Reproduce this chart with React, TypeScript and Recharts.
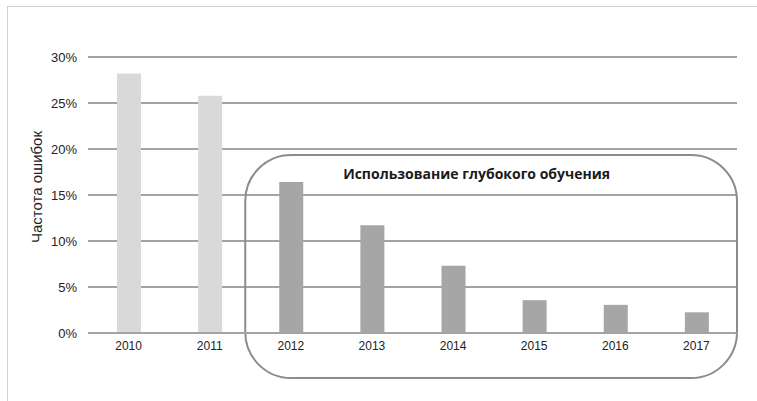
import React from 'react';
import { BarChart, Bar, XAxis, YAxis, CartesianGrid, Cell, ReferenceArea, Label } from 'recharts';

const years = ['2010', '2011', '2012', '2013', '2014', '2015', '2016', '2017'];
const errorRates = [28.2, 25.8, 16.4, 11.7, 7.3, 3.57, 3.06, 2.25];
const yTicks = [0, 5, 10, 15, 20, 25, 30];
const deepLearningFrom = '2012';
const deepLearningTo = '2017';
const boxTitle = 'Использование глубокого обучения';
const yTitle = 'Частота ошибок';
// vertical extent of the rounded annotation box, in % units
const boxTop = 19.35;
const boxBottom = -4.9;

const data = years.map((year, i) => ({ year, rate: errorRates[i] }));
const deepStart = years.indexOf(deepLearningFrom);

const FONT = '"Liberation Sans", Arial, sans-serif';

function RoundedBox(props: any) {
  const { x, y, width, height } = props;
  return (
    <g>
      <rect
        x={x - 5}
        y={y}
        width={width + 5}
        height={height}
        rx={46}
        ry={46}
        fill="none"
        stroke="#8c8c8c"
        strokeWidth={2}
      />
      <text
        x={x + width / 2 - 17}
        y={y + 24}
        textAnchor="middle"
        fontFamily='"Open Sans", sans-serif'
        fontWeight={700}
        fontSize={14}
        fill="#1a1a1a"
      >
        {boxTitle}
      </text>
    </g>
  );
}

export default function App() {
  return (
    <div
      style={{
        position: 'absolute',
        left: 7,
        top: 6,
        width: 750,
        height: 395,
        borderLeft: '1px solid #d0d0d0',
        borderTop: '1px solid #d0d0d0',
        background: '#fff',
      }}
    >
      <div style={{ position: 'absolute', left: 0, top: 0 }}>
        <BarChart width={749} height={393} data={data} margin={{ top: 50, right: 20, left: 0, bottom: 37 }}>
          <CartesianGrid horizontal vertical={false} stroke="#a3a3a3" strokeWidth={2} />
          <XAxis
            dataKey="year"
            axisLine={{ stroke: '#a3a3a3', strokeWidth: 2 }}
            tickLine={false}
            height={30}
            tick={{ fontSize: 12, fill: '#222', fontFamily: FONT }}
          />
          <YAxis
            domain={[0, 30]}
            ticks={yTicks}
            width={80}
            axisLine={false}
            tickLine={false}
            tickMargin={5}
            tickFormatter={(v) => `${v}%`}
            tick={{ fontSize: 13, fill: '#222', fontFamily: FONT }}
          >
            <Label
              content={({ viewBox }: any) => {
                const cx = viewBox.x + 28;
                const cy = viewBox.y + viewBox.height / 2 - 8;
                return (
                  <text
                    x={cx}
                    y={cy}
                    transform={`rotate(-90, ${cx}, ${cy})`}
                    textAnchor="middle"
                    dominantBaseline="central"
                    fontSize={15}
                    fontFamily={FONT}
                    fill="#222"
                  >
                    {yTitle}
                  </text>
                );
              }}
            />
          </YAxis>
          <Bar dataKey="rate" barSize={24} isAnimationActive={false}>
            {data.map((d, i) => (
              <Cell key={d.year} fill={i >= deepStart ? '#a6a6a6' : '#d9d9d9'} />
            ))}
          </Bar>
          <ReferenceArea
            x1={deepLearningFrom}
            x2={deepLearningTo}
            y1={boxBottom}
            y2={boxTop}
            ifOverflow="visible"
            shape={<RoundedBox />}
          />
        </BarChart>
      </div>
    </div>
  );
}
